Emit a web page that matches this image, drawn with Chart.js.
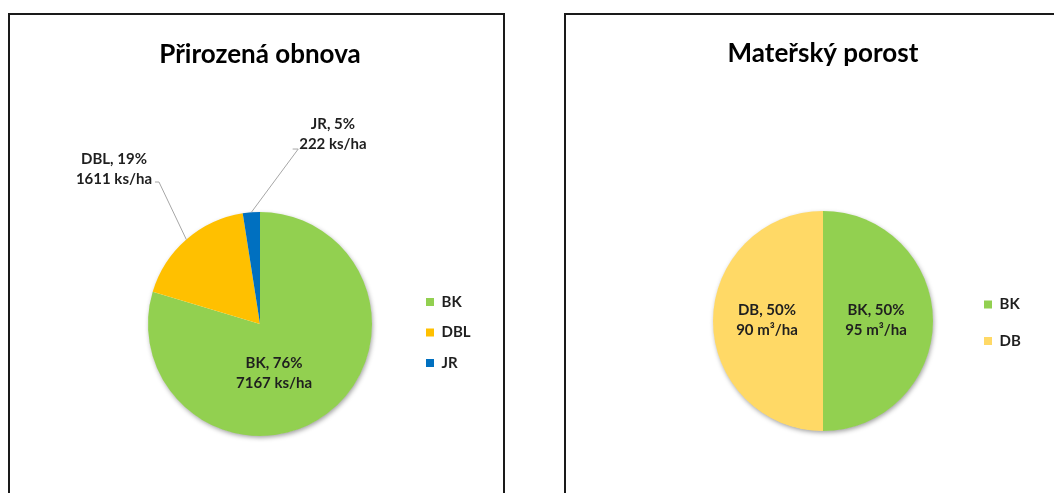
<!DOCTYPE html>
<html>
<head>
<meta charset="utf-8">
<script src="https://cdn.jsdelivr.net/npm/chart.js@4.4.1/dist/chart.umd.min.js"></script>
<style>
  html, body { margin: 0; padding: 0; background: #fff; overflow: hidden; }
  body { width: 1054px; height: 493px; position: relative; }
  .panel { position: absolute; top: 13px; border: 2px solid #1a1a1a; background: #fff; }
  #left { left: 8px; width: 493px; height: 490px; }
  #right { left: 564px; width: 500px; height: 490px; }
  canvas { display: block; }
</style>
</head>
<body>
<div class="panel" id="left"><canvas id="chart1" width="493" height="478"></canvas></div>
<div class="panel" id="right"><canvas id="chart2" width="500" height="478"></canvas></div>
<script>
// natural regeneration
const regenNames = ['BK', 'DBL', 'JR'];
const regenDensity = [7167, 1611, 222];   // ks/ha
const regenShare = [76, 19, 5];           // % as printed on the labels
const regenColors = ['#92D050', '#FFC000', '#0070C0'];

// parent stand
const standNames = ['BK', 'DB'];
const standShare = [50, 50];              // %
const standVolume = [95, 90];             // m3/ha
const standColors = ['#92D050', '#FFD966'];

const FONT = 'Lato';
const TEXT = '#1f1f1f';
const LABEL_SIZE = 15;

// shadow under the pie + data labels with leader lines
const pieExtras = {
  id: 'pieExtras',
  beforeDatasetsDraw(chart) {
    const arc = chart.getDatasetMeta(0).data[0];
    const ctx = chart.ctx;
    ctx.save();
    ctx.shadowColor = 'rgba(0,0,0,0.4)';
    ctx.shadowBlur = 5;
    ctx.shadowOffsetX = 1;
    ctx.shadowOffsetY = 2;
    ctx.fillStyle = '#fff';
    ctx.beginPath();
    ctx.arc(arc.x, arc.y, arc.outerRadius - 0.5, 0, Math.PI * 2);
    ctx.fill();
    ctx.restore();
  },
  afterDatasetsDraw(chart, args, opts) {
    const ctx = chart.ctx;
    const meta = chart.getDatasetMeta(0);
    ctx.save();
    ctx.font = 'bold ' + LABEL_SIZE + 'px ' + FONT;
    ctx.fillStyle = TEXT;
    ctx.textAlign = 'center';
    ctx.textBaseline = 'middle';
    meta.data.forEach((arc, i) => {
      const p = opts.place[i];
      const lines = opts.lines[i];
      const mid = (arc.startAngle + arc.endAngle) / 2;
      const R = arc.outerRadius;
      let cx, cy;
      if (p.inside) {
        cx = arc.x + Math.cos(mid) * R * p.r + p.dx;
        cy = arc.y + Math.sin(mid) * R * p.r + p.dy;
      } else {
        const ex = arc.x + Math.cos(mid) * R;
        const ey = arc.y + Math.sin(mid) * R;
        cx = ex + p.dx;
        cy = ey + p.dy;
        ctx.strokeStyle = '#a6a6a6';
        ctx.lineWidth = 1;
        ctx.beginPath();
        ctx.moveTo(ex, ey);
        ctx.lineTo(cx + p.elbow[0], cy + p.elbow[1]);
        ctx.lineTo(cx + p.tick[0], cy + p.tick[1]);
        ctx.stroke();
      }
      lines.forEach((t, k) => ctx.fillText(t, cx, cy + (k - (lines.length - 1) / 2) * 20));
    });
    ctx.restore();
  }
};

// fixed legend width so that the legend sits where it should
function legendWidth(names, gap) {
  const c = document.createElement('canvas').getContext('2d');
  c.font = 'bold ' + LABEL_SIZE + 'px ' + FONT;
  const w = Math.max(...names.map(n => c.measureText(n).width));
  return Math.ceil(gap + 8 + LABEL_SIZE / 2 + w + 3);
}

function pieConfig(names, values, colors, cfg) {
  const lw = legendWidth(names, cfg.legendGap);
  const padding = Object.assign({}, cfg.padding, { right: cfg.canvasWidth - cfg.legendLeft - lw });
  return {
    type: 'pie',
    data: {
      labels: names,
      datasets: [{ data: values, backgroundColor: colors, borderWidth: 0 }]
    },
    options: {
      responsive: false,
      animation: false,
      layout: { padding: padding },
      plugins: {
        title: {
          display: true,
          text: cfg.title,
          fullSize: false,
          color: '#000',
          font: { family: FONT, size: 26, weight: 'bold', lineHeight: 1.2 },
          padding: cfg.titlePadding
        },
        legend: {
          position: 'right',
          fullSize: false,
          maxWidth: lw,
          title: { display: true, text: '', font: { size: cfg.legendShift, lineHeight: 1 }, padding: 0 },
          labels: {
            boxWidth: 8,
            boxHeight: 8,
            padding: cfg.legendGap,
            color: TEXT,
            font: { family: FONT, size: LABEL_SIZE, weight: 'bold' }
          }
        },
        tooltip: { enabled: false },
        pieExtras: { lines: cfg.lines, place: cfg.place }
      }
    },
    plugins: [pieExtras]
  };
}

new Chart(document.getElementById('chart1'), pieConfig(regenNames, regenDensity, regenColors, {
  title: 'Přirozená obnova',
  canvasWidth: 493,
  legendLeft: 400.5,
  padding: { left: 99.5, top: 0, bottom: 57 },
  titlePadding: { top: 24.4, bottom: 141.4 },
  legendGap: 15.5,
  legendShift: 17,
  lines: regenNames.map((n, i) => [n + ', ' + regenShare[i] + '%', regenDensity[i] + ' ks/ha']),
  place: [
    { inside: true, r: 0.5, dx: -19.4, dy: 4 },
    { dx: -72.4, dy: -70.6, elbow: [45, 13], tick: [41, 13] },
    { dx: 81.6, dy: -78.3, elbow: [-34.7, 15], tick: [-40.3, 15] }
  ]
}));

new Chart(document.getElementById('chart2'), pieConfig(standNames, standShare, standColors, {
  title: 'Mateřský porost',
  canvasWidth: 500,
  legendLeft: 396.5,
  padding: { left: 117.5, top: 0, bottom: 62 },
  titlePadding: { top: 23.4, bottom: 141.4 },
  legendGap: 21.5,
  legendShift: 3.5,
  lines: standNames.map((n, i) => [n + ', ' + standShare[i] + '%', standVolume[i] + ' m³/ha']),
  place: [
    { inside: true, r: 0.5, dx: -2, dy: -1 },
    { inside: true, r: 0.5, dx: -1, dy: -1 }
  ]
}));
</script>
</body>
</html>
